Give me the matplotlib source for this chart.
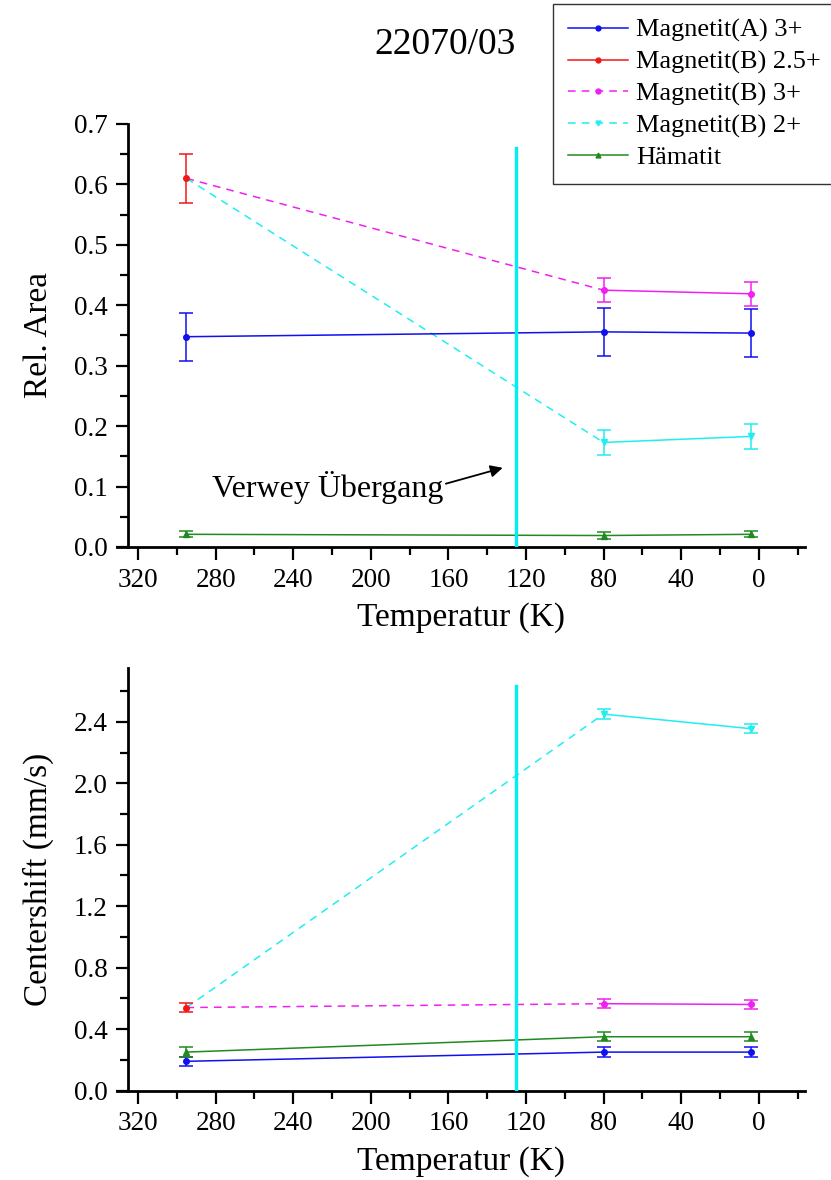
import numpy as np
import matplotlib
matplotlib.use("Agg")
import matplotlib.pyplot as plt
from matplotlib.lines import Line2D
from matplotlib.ticker import MultipleLocator, FormatStrFormatter

plt.rcParams['font.family'] = ['Liberation Serif', 'DejaVu Serif']

# temperatures (K)
t_all = [295, 80, 4]
t_low = [80, 4]
t_rt = [295]
t_verwey = 125

# relative area
area_A3 = [0.348, 0.356, 0.354]
area_A3_err = [0.04, 0.04, 0.04]
area_B25 = [0.61]
area_B25_err = [0.04]
area_B3 = [0.425, 0.419]
area_B3_err = [0.02, 0.02]
area_B2 = [0.173, 0.183]
area_B2_err = [0.02, 0.02]
area_hem = [0.021, 0.019, 0.021]
area_hem_err = [0.005, 0.005, 0.005]

# centershift (mm/s)
cs_A3 = [0.19, 0.25, 0.25]
cs_A3_err = [0.03, 0.03, 0.03]
cs_B25 = [0.54]
cs_B25_err = [0.03]
cs_B3 = [0.565, 0.56]
cs_B3_err = [0.03, 0.03]
cs_B2 = [2.45, 2.355]
cs_B2_err = [0.03, 0.03]
cs_hem = [0.25, 0.35, 0.35]
cs_hem_err = [0.03, 0.03, 0.03]

labels = ["Magnetit(A) 3+", "Magnetit(B) 2.5+", "Magnetit(B) 3+", "Magnetit(B) 2+", "Hämatit"]
c_blue, c_red, c_mag, c_cyan, c_green = "#1010f0", "#f01818", "#f020f0", "#20eef0", "#208a20"
vline_color = "#00eef5"

W, H = 831, 1180
fig = plt.figure(figsize=(W/100, H/100), dpi=100)
x0, x1 = 117, 805
ax1 = fig.add_axes([x0/W, 1-547/H, (x1-x0)/W, (547-124)/H])
ax2 = fig.add_axes([x0/W, 1-1090.5/H, (x1-x0)/W, (1090.5-668)/H])

eb = dict(capsize=5, elinewidth=1.1, capthick=1.1, lw=1.1, ms=4)


def series(ax, A3, A3e, B25, B25e, B3, B3e, B2, B2e, hem, heme):
    ax.errorbar(t_all, A3, yerr=A3e, color=c_blue, marker='o', **eb)
    ax.errorbar(t_all, hem, yerr=heme, color=c_green, marker='^', **eb)
    # dashed connectors from the room temperature B(2.5+) point
    ax.plot([t_rt[0], t_low[0]], [B25[0], B3[0]], color=c_mag, ls=(0, (5, 4)), lw=1.1)
    ax.plot([t_rt[0], t_low[0]], [B25[0], B2[0]], color=c_cyan, ls=(0, (5, 4)), lw=1.1)
    ax.errorbar(t_low, B3, yerr=B3e, color=c_mag, marker='o', **eb)
    ax.errorbar(t_low, B2, yerr=B2e, color=c_cyan, marker='v', **eb)
    ax.errorbar(t_rt, B25, yerr=B25e, color=c_red, marker='o', **eb)


series(ax1, area_A3, area_A3_err, area_B25, area_B25_err, area_B3, area_B3_err,
       area_B2, area_B2_err, area_hem, area_hem_err)
series(ax2, cs_A3, cs_A3_err, cs_B25, cs_B25_err, cs_B3, cs_B3_err,
       cs_B2, cs_B2_err, cs_hem, cs_hem_err)

ax1.plot([t_verwey, t_verwey], [0, 0.66], color=vline_color, lw=2.4, zorder=5)
ax2.plot([t_verwey, t_verwey], [0, 2.63], color=vline_color, lw=2.4, zorder=5)

for ax, top, major, minor, ylab in [(ax1, 0.7, 0.1, 0.05, "Rel. Area"),
                                    (ax2, 2.75, 0.4, 0.2, "Centershift (mm/s)")]:
    ax.set_xlim(330.8, -23.8)
    ax.set_ylim(0, top)
    for s in ['top', 'right']:
        ax.spines[s].set_visible(False)
    ax.spines['left'].set_position(('data', 325))
    ax.spines['left'].set_linewidth(2)
    ax.spines['bottom'].set_linewidth(2)
    ax.xaxis.set_major_locator(MultipleLocator(40))
    ax.xaxis.set_minor_locator(MultipleLocator(20))
    ax.yaxis.set_major_locator(MultipleLocator(major))
    ax.yaxis.set_minor_locator(MultipleLocator(minor))
    ax.yaxis.set_major_formatter(FormatStrFormatter('%.1f'))
    ax.tick_params(which='major', direction='out', length=9, width=1.6, labelsize=19.5, pad=6)
    ax.tick_params(which='minor', direction='out', length=5.5, width=1.6)
    ax.set_xlabel("Temperatur (K)", fontsize=24, labelpad=7)
    ax.set_ylabel(ylab, fontsize=24, labelpad=14)
    ax.patch.set_alpha(0)

ax1.annotate("Verwey Übergang", xy=(132, 0.131), xytext=(282, 0.098),
             fontsize=23, ha='left', va='center',
             arrowprops=dict(arrowstyle='-|>', color='black', lw=1.3,
                             mutation_scale=18, shrinkA=0, shrinkB=0,
                             relpos=(1.0, 0.6)))

fig.text(445/W, 1-45/H, "22070/03", fontsize=27, ha='center', va='center')

handles = [
    Line2D([], [], color=c_blue, marker='o', ms=3.5, lw=1.1),
    Line2D([], [], color=c_red, marker='o', ms=3.5, lw=1.1),
    Line2D([], [], color=c_mag, marker='o', ms=3.5, lw=1.1, ls=(0, (5, 4))),
    Line2D([], [], color=c_cyan, marker='v', ms=3.5, lw=1.1, ls=(0, (5, 4))),
    Line2D([], [], color=c_green, marker='^', ms=3.5, lw=1.1),
]
leg = fig.legend(handles, labels, loc='upper left', bbox_to_anchor=(553/W, 1-4/H),
                 bbox_transform=fig.transFigure, fontsize=19, frameon=True,
                 fancybox=False, borderaxespad=0, handlelength=2.3,
                 handletextpad=0.3, labelspacing=0.3, borderpad=0.55)
leg.get_frame().set_edgecolor('black')
leg.get_frame().set_linewidth(1.0)

fig.savefig("out.png", dpi=100)
